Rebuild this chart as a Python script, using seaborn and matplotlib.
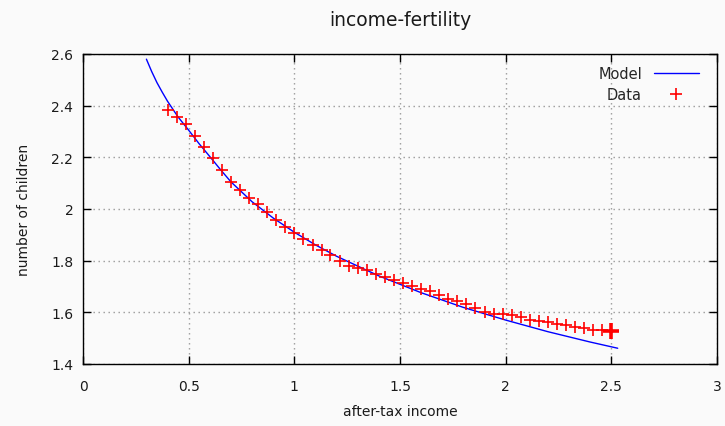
import matplotlib
matplotlib.use("Agg")
import matplotlib.pyplot as plt
from matplotlib.lines import Line2D
import seaborn as sns
import pandas as pd

# after-tax income (x) and observed number of children (y)
data_income = [0.400, 0.443, 0.486, 0.529, 0.571, 0.614, 0.657, 0.700, 0.743, 0.786,
               0.829, 0.871, 0.914, 0.957, 1.000, 1.043, 1.086, 1.129, 1.171, 1.214,
               1.257, 1.300, 1.343, 1.386, 1.429, 1.471, 1.514, 1.557, 1.600, 1.643,
               1.686, 1.729, 1.771, 1.814, 1.857, 1.900, 1.943, 1.986, 2.029, 2.071,
               2.114, 2.157, 2.200, 2.243, 2.286, 2.329, 2.371, 2.414, 2.457, 2.500]
data_children = [2.383, 2.358, 2.328, 2.284, 2.240, 2.196, 2.151, 2.106, 2.074, 2.042,
                 2.020, 1.990, 1.959, 1.930, 1.908, 1.884, 1.862, 1.843, 1.820, 1.797,
                 1.781, 1.771, 1.763, 1.747, 1.736, 1.726, 1.713, 1.700, 1.691, 1.682,
                 1.668, 1.652, 1.642, 1.633, 1.616, 1.603, 1.595, 1.593, 1.588, 1.580,
                 1.571, 1.566, 1.561, 1.556, 1.550, 1.544, 1.540, 1.533, 1.530, 1.526]

# fitted model curve
model_income = [0.30, 0.325, 0.35, 0.375, 0.40, 0.45, 0.50, 0.55, 0.60, 0.65, 0.70,
                0.80, 0.90, 1.00, 1.10, 1.20, 1.40, 1.60, 1.80, 2.00, 2.20, 2.40, 2.53]
model_children = [2.580, 2.532, 2.489, 2.452, 2.417, 2.356, 2.305, 2.252, 2.203, 2.153,
                  2.105, 2.028, 1.965, 1.910, 1.861, 1.817, 1.741, 1.676, 1.619, 1.570,
                  1.525, 1.485, 1.461]

x_ticks = [0, 0.5, 1, 1.5, 2, 2.5, 3]
x_tick_labels = ["0", "0.5", "1", "1.5", "2", "2.5", "3"]
y_ticks = [1.4, 1.6, 1.8, 2.0, 2.2, 2.4, 2.6]
y_tick_labels = ["1.4", "1.6", "1.8", "2", "2.2", "2.4", "2.6"]

sns.set_theme(style="ticks")
plt.rcParams["font.family"] = ["DejaVu Sans"]

bg = "#fafafa"
txt = "#1a1a1a"

fig = plt.figure(figsize=(7.25, 4.27), dpi=100, facecolor=bg)
ax = fig.add_axes([0.1145, 0.1452, 0.8745, 0.726])
ax.set_facecolor(bg)

model_df = pd.DataFrame({"income": model_income, "children": model_children})
data_df = pd.DataFrame({"income": data_income, "children": data_children})

sns.lineplot(data=model_df, x="income", y="children", ax=ax, color="#0000ff",
             linewidth=1.0, sort=False, zorder=3)
sns.scatterplot(data=data_df, x="income", y="children", ax=ax, marker="+",
                color="#ff0000", s=85, linewidth=1.2, zorder=4)
# final observation drawn heavier
ax.plot(data_income[-1:], data_children[-1:], marker="+", color="#ff0000",
        markersize=11, markeredgewidth=2.6, linestyle="none", zorder=5)

ax.set_xlim(0, 3)
ax.set_ylim(1.4, 2.6)
ax.set_xticks(x_ticks)
ax.set_xticklabels(x_tick_labels)
ax.set_yticks(y_ticks)
ax.set_yticklabels(y_tick_labels)

ax.grid(True, color="#999999", linestyle=(0, (1.0, 2.6)), linewidth=1.0)
for s in ax.spines.values():
    s.set_visible(True)
    s.set_color("black")
    s.set_linewidth(1.0)

ax.tick_params(axis="both", direction="in", length=5.5, width=1.0, color="black",
               top=True, right=True, labelsize=10, labelcolor=txt)
ax.tick_params(axis="x", pad=11)
ax.tick_params(axis="y", pad=7)

ax.set_xlabel("after-tax income", fontsize=10, color=txt, labelpad=7.5)
ax.set_ylabel("number of children", fontsize=10, color=txt, labelpad=14.5)
ax.set_title("income-fertility", fontsize=13.5, color=txt, pad=21)

handles = [Line2D([], [], color="#0000ff", linewidth=1.0),
           Line2D([], [], color="#ff0000", marker="+", linestyle="none",
                  markersize=9, markeredgewidth=1.2)]
ax.legend(handles, ["Model", "Data"], loc="upper right", bbox_to_anchor=(0.985, 0.99),
          frameon=False, markerfirst=False, fontsize=10.5, handlelength=3.1,
          labelspacing=0.45, handletextpad=0.8, borderaxespad=0.2)

fig.savefig("out.png", dpi=100, facecolor=bg)
